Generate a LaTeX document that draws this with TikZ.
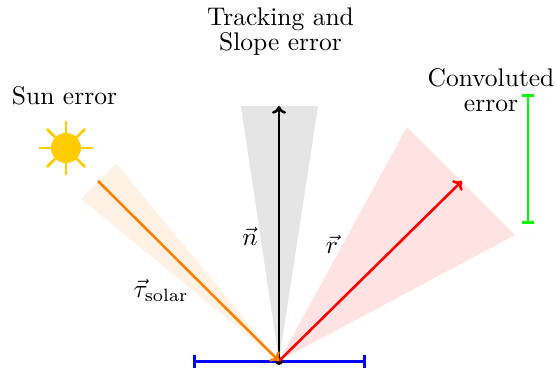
\documentclass[tikz,border=0pt]{standalone}
\usetikzlibrary{arrows.meta}
\tikzset{
  lbl/.style={inner sep=0pt,align=center,font=\fontsize{10}{9.9}\selectfont},
  ray/.style={line width=1pt,-{To[length=3pt,width=5.5pt]}},
  bar/.style={line width=1pt,{Bar[width=4.8pt]}-{Bar[width=4.8pt]}},
  sunray/.style={draw=sunc,line width=1pt}
}
\definecolor{sunc}{RGB}{255,204,0}
\definecolor{raycol}{RGB}{255,128,0}
\definecolor{wedgeg}{RGB}{229,229,229}
\definecolor{wedgeo}{RGB}{255,241,228}
\definecolor{wedger}{RGB}{255,227,227}
\begin{document}
\begin{tikzpicture}[x=0.3922pt,y=-0.3922pt]
\useasboundingbox (0,0) rectangle (556,369);
\coordinate (o) at (279,361);
\coordinate (nt) at (279,106);
\coordinate (st) at (98,181);
\coordinate (rt) at (462,181);
\fill[wedgeg] (o) -- (241,106) -- (318,106) -- cycle;
\fill[wedgeo] (o) -- (116,163) -- (81,199) -- cycle;
\fill[wedger] (o) -- (407,127) -- (515,235) -- cycle;
\coordinate (bl) at (193,361.5);
\coordinate (br) at (366,361.5);
\draw[bar,blue] (bl) -- (br);
\coordinate (gt) at (528,94);
\coordinate (gb) at (528,224);
\draw[bar,green] (gt) -- (gb);
\fill[black] (o) circle (4);
\draw[ray,black] (o) -- (nt);
\draw[ray,red] (o) -- (rt);
\draw[ray,raycol] (st) -- (o);
\node[circle,fill=sunc,minimum size=30*0.3922pt,inner sep=0pt] (sun) at (66,148) {};
\foreach \a in {0,45,...,315}
  \draw[sunray] (sun.center) ++(\a:15) -- ++(\a:12);
\node[lbl] (t1) at (280.5,31.5) {Tracking and\\Slope error};
\node[lbl] (t2) at (64.5,96) {Sun error};
\node[lbl] (t3) at (491,90.5) {Convoluted\\error};
\node[lbl] (n) at (250,236) {$\vec{n}$};
\node[lbl] (r) at (332,244) {$\vec{r}$};
\node[lbl] (s) at (161,290) {$\vec{\tau}_{\mathrm{solar}}$};
\end{tikzpicture}
\end{document}
